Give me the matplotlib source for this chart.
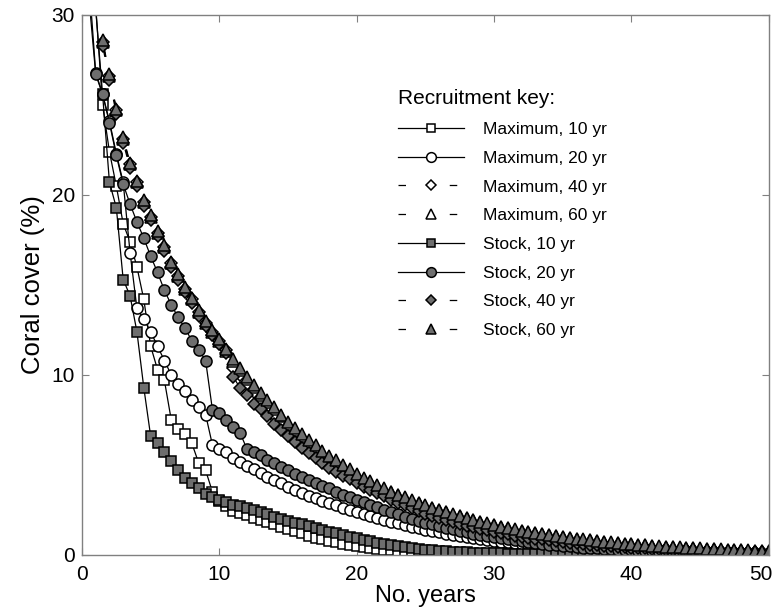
import numpy as np
import matplotlib.pyplot as plt
import matplotlib.transforms as mtransforms
from matplotlib.lines import Line2D

plt.rcParams['font.family'] = ['Liberation Sans', 'DejaVu Sans']

# time axis (years, half-year steps)
years = np.linspace(0, 50, 101)

# coral cover (%), one value per half year
max_10 = [40.0, 34.0, 30.5, 25.0, 22.4, 20.5, 18.4, 17.4, 16.0, 14.2,
          11.6, 10.3, 9.7, 7.5, 7.0, 6.7, 6.2, 5.1, 4.7, 3.5,
          3.0, 2.7, 2.45, 2.32, 2.2, 2.07, 1.95, 1.82, 1.7, 1.58,
          1.45, 1.32, 1.2, 1.07, 0.95, 0.86, 0.78, 0.7, 0.62, 0.55,
          0.48, 0.43, 0.38, 0.34, 0.3, 0.26, 0.22, 0.19, 0.16, 0.14,
          0.12, 0.1, 0.09, 0.08, 0.07, 0.06, 0.05, 0.05, 0.04, 0.04,
          0.03, 0.03, 0.03, 0.03, 0.02, 0.02, 0.02, 0.02, 0.02, 0.02,
          0.01, 0.01, 0.01, 0.01, 0.01, 0.01, 0.01, 0.01, 0.01, 0.01,
          0.01, 0.01, 0.01, 0.01, 0.01, 0.01, 0.01, 0.01, 0.01, 0.01,
          0.0, 0.0, 0.0, 0.0, 0.0, 0.0, 0.0, 0.0, 0.0, 0.0,
          0.0]
max_20 = [40.0, 32.0, 26.8, 25.6, 24.1, 22.3, 20.7, 16.8, 13.7, 13.1,
          12.4, 11.6, 10.8, 10.0, 9.5, 9.1, 8.6, 8.2, 7.8, 6.1,
          5.9, 5.7, 5.4, 5.15, 4.95, 4.75, 4.55, 4.35, 4.15, 4.0,
          3.8, 3.62, 3.45, 3.3, 3.15, 3.0, 2.87, 2.75, 2.62, 2.5,
          2.38, 2.27, 2.16, 2.05, 1.95, 1.85, 1.75, 1.66, 1.57, 1.49,
          1.41, 1.33, 1.26, 1.19, 1.12, 1.06, 1.0, 0.94, 0.89, 0.84,
          0.79, 0.74, 0.7, 0.66, 0.62, 0.58, 0.55, 0.52, 0.49, 0.46,
          0.43, 0.4, 0.38, 0.36, 0.34, 0.32, 0.3, 0.28, 0.26, 0.25,
          0.23, 0.22, 0.21, 0.19, 0.18, 0.17, 0.16, 0.15, 0.14, 0.13,
          0.12, 0.12, 0.11, 0.1, 0.1, 0.09, 0.08, 0.08, 0.07, 0.07,
          0.06]
max_40 = [40.0, 33.4, 30.7, 28.5, 26.6, 24.7, 23.1, 21.7, 20.7, 19.6,
          18.8, 17.9, 17.1, 16.2, 15.5, 14.8, 14.2, 13.5, 12.9, 12.4,
          11.9, 11.4, 10.4, 10.0, 9.5, 9.05, 8.6, 8.2, 7.8, 7.45,
          7.1, 6.75, 6.4, 6.1, 5.8, 5.5, 5.2, 4.95, 4.7, 4.45,
          4.22, 4.0, 3.8, 3.6, 3.4, 3.22, 3.05, 2.88, 2.72, 2.57,
          2.42, 2.28, 2.15, 2.02, 1.9, 1.79, 1.68, 1.58, 1.48, 1.39,
          1.31, 1.23, 1.16, 1.1, 1.04, 0.98, 0.93, 0.88, 0.83, 0.78,
          0.74, 0.7, 0.66, 0.62, 0.58, 0.55, 0.52, 0.49, 0.46, 0.44,
          0.41, 0.39, 0.37, 0.35, 0.33, 0.31, 0.29, 0.28, 0.26, 0.25,
          0.23, 0.22, 0.21, 0.2, 0.19, 0.18, 0.17, 0.16, 0.15, 0.14,
          0.13]
max_60 = [40.0, 33.3, 30.6, 28.5, 26.6, 24.7, 23.1, 21.7, 20.7, 19.6,
          18.8, 17.9, 17.1, 16.2, 15.5, 14.8, 14.2, 13.5, 12.9, 12.4,
          11.9, 11.35, 10.8, 10.3, 9.8, 9.35, 8.9, 8.5, 8.1, 7.7,
          7.3, 6.95, 6.6, 6.3, 6.0, 5.7, 5.42, 5.17, 4.93, 4.68,
          4.44, 4.24, 4.05, 3.85, 3.66, 3.48, 3.32, 3.17, 3.02, 2.88,
          2.73, 2.6, 2.48, 2.36, 2.24, 2.14, 2.04, 1.94, 1.84, 1.74,
          1.64, 1.56, 1.49, 1.41, 1.34, 1.27, 1.21, 1.15, 1.09, 1.04,
          0.99, 0.94, 0.89, 0.85, 0.81, 0.77, 0.73, 0.69, 0.66, 0.62,
          0.59, 0.56, 0.53, 0.5, 0.47, 0.45, 0.43, 0.41, 0.39, 0.37,
          0.35, 0.33, 0.31, 0.3, 0.28, 0.27, 0.25, 0.24, 0.23, 0.21,
          0.2]
stock_10 = [40.0, 34.0, 30.3, 25.6, 20.7, 19.3, 15.3, 14.4, 12.4, 9.3,
            6.6, 6.2, 5.7, 5.2, 4.7, 4.3, 4.0, 3.7, 3.4, 3.2,
            3.05, 2.92, 2.8, 2.7, 2.6, 2.48, 2.37, 2.25, 2.13, 2.02,
            1.9, 1.8, 1.7, 1.6, 1.5, 1.4, 1.3, 1.2, 1.1, 1.0,
            0.92, 0.83, 0.75, 0.67, 0.6, 0.54, 0.48, 0.43, 0.38, 0.34,
            0.3, 0.27, 0.24, 0.21, 0.19, 0.17, 0.15, 0.13, 0.12, 0.11,
            0.1, 0.09, 0.08, 0.07, 0.07, 0.06, 0.06, 0.05, 0.05, 0.05,
            0.04, 0.04, 0.04, 0.04, 0.03, 0.03, 0.03, 0.03, 0.03, 0.03,
            0.02, 0.02, 0.02, 0.02, 0.02, 0.02, 0.02, 0.02, 0.02, 0.02,
            0.02, 0.02, 0.02, 0.01, 0.01, 0.01, 0.01, 0.01, 0.01, 0.01,
            0.01]
stock_20 = [40.0, 31.0, 26.7, 25.6, 24.0, 22.2, 20.6, 19.5, 18.5, 17.6,
            16.6, 15.7, 14.7, 13.9, 13.2, 12.6, 11.9, 11.4, 10.8, 8.05,
            7.9, 7.5, 7.1, 6.8, 5.9, 5.7, 5.55, 5.3, 5.1, 4.9,
            4.7, 4.52, 4.35, 4.17, 4.0, 3.85, 3.7, 3.52, 3.35, 3.2,
            3.05, 2.92, 2.8, 2.65, 2.5, 2.37, 2.25, 2.12, 2.0, 1.9,
            1.8, 1.7, 1.6, 1.51, 1.42, 1.34, 1.26, 1.18, 1.1, 1.04,
            0.98, 0.92, 0.87, 0.81, 0.76, 0.72, 0.67, 0.63, 0.58, 0.55,
            0.51, 0.48, 0.44, 0.41, 0.38, 0.36, 0.33, 0.31, 0.29, 0.27,
            0.25, 0.23, 0.22, 0.2, 0.19, 0.18, 0.16, 0.15, 0.14, 0.13,
            0.12, 0.11, 0.1, 0.1, 0.09, 0.08, 0.08, 0.07, 0.07, 0.06,
            0.06]
stock_40 = [40.0, 33.2, 30.5, 28.3, 26.4, 24.5, 22.9, 21.5, 20.5, 19.4,
            18.6, 17.7, 16.9, 16.0, 15.3, 14.6, 14.0, 13.3, 12.7, 12.2,
            11.7, 11.2, 9.9, 9.3, 8.9, 8.4, 8.1, 7.7, 7.3, 6.95,
            6.6, 6.25, 5.95, 5.65, 5.4, 5.1, 4.85, 4.6, 4.4, 4.2,
            4.0, 3.8, 3.6, 3.42, 3.25, 3.07, 2.9, 2.75, 2.6, 2.45,
            2.3, 2.17, 2.05, 1.93, 1.82, 1.72, 1.62, 1.53, 1.44, 1.36,
            1.28, 1.21, 1.14, 1.08, 1.02, 0.96, 0.91, 0.86, 0.81, 0.77,
            0.72, 0.68, 0.64, 0.61, 0.57, 0.54, 0.51, 0.48, 0.45, 0.43,
            0.4, 0.38, 0.36, 0.34, 0.32, 0.3, 0.28, 0.27, 0.25, 0.24,
            0.22, 0.21, 0.2, 0.19, 0.18, 0.17, 0.16, 0.15, 0.14, 0.13,
            0.12]
stock_60 = [40.0, 33.5, 30.8, 28.6, 26.7, 24.8, 23.2, 21.8, 20.8, 19.7,
            18.9, 18.0, 17.2, 16.3, 15.6, 14.9, 14.3, 13.6, 13.0, 12.5,
            12.0, 11.45, 10.9, 10.4, 9.9, 9.45, 9.0, 8.6, 8.2, 7.8,
            7.4, 7.05, 6.7, 6.4, 6.1, 5.8, 5.5, 5.25, 5.0, 4.75,
            4.5, 4.3, 4.1, 3.9, 3.7, 3.52, 3.35, 3.2, 3.05, 2.9,
            2.75, 2.62, 2.5, 2.37, 2.25, 2.15, 2.05, 1.95, 1.85, 1.75,
            1.65, 1.57, 1.5, 1.42, 1.35, 1.28, 1.22, 1.16, 1.1, 1.05,
            1.0, 0.95, 0.9, 0.86, 0.82, 0.78, 0.74, 0.7, 0.67, 0.63,
            0.6, 0.57, 0.54, 0.51, 0.48, 0.46, 0.44, 0.42, 0.4, 0.38,
            0.36, 0.34, 0.32, 0.31, 0.29, 0.28, 0.26, 0.25, 0.24, 0.22,
            0.21]

labels = ['Maximum, 10 yr', 'Maximum, 20 yr', 'Maximum, 40 yr', 'Maximum, 60 yr',
          'Stock, 10 yr', 'Stock, 20 yr', 'Stock, 40 yr', 'Stock, 60 yr']
series = [max_10, max_20, max_40, max_60, stock_10, stock_20, stock_40, stock_60]
markers = ['s', 'o', 'D', '^', 's', 'o', 'D', '^']
sizes = [7, 8, 6.5, 8, 7, 8, 6.5, 8]
fills = ['white'] * 4 + ['#6e6e6e'] * 4
dashed = [False, False, True, True, False, False, True, True]

fig = plt.figure(figsize=(7.77, 6.11), dpi=100)
ax = fig.add_axes([0.1055, 0.0917, 0.884, 0.8838])

handles = []
for y, lab, m, ms, fc, d in zip(series, labels, markers, sizes, fills, dashed):
    ls = (0, (6, 35)) if d else '-'
    ax.plot(years, y, color='black', lw=0.9, linestyle=ls, marker=m,
            markersize=ms, markerfacecolor=fc, markeredgecolor='black',
            markeredgewidth=1.1)
    handles.append(Line2D([], [], color='black', lw=0.9, linestyle=ls,
                          marker=m, markersize=ms - 1, markerfacecolor=fc,
                          markeredgecolor='black', markeredgewidth=1.1))

ax.set_xlim(0, 50)
ax.set_ylim(0, 30)
ax.set_xticks([0, 10, 20, 30, 40, 50])
ax.set_yticks([0, 10, 20, 30])
ax.tick_params(direction='in', length=5, color='#808080', labelsize=15,
               top=True, right=True)
ax.tick_params(axis='x', pad=7)
ax.tick_params(axis='y', pad=5)
for sp in ax.spines.values():
    sp.set_color('#808080')
    sp.set_linewidth(1.0)

# keep the last x tick label inside the picture
last = ax.get_xticklabels()[-1]
last.set_transform(last.get_transform() +
                   mtransforms.ScaledTranslation(-8 / 100, 0, fig.dpi_scale_trans))

ax.set_xlabel('No. years', fontsize=17, labelpad=1)
ax.set_ylabel('Coral cover (%)', fontsize=18.5, labelpad=5)

leg = ax.legend(handles, labels, title='Recruitment key:', loc='upper left',
                bbox_to_anchor=(0.4595, 0.862), frameon=False, numpoints=1,
                fontsize=12.5, title_fontsize=15, handlelength=3.8,
                handletextpad=1.1, labelspacing=0.78, borderpad=0,
                borderaxespad=0, alignment='left')

fig.savefig('out.png', dpi=100)
